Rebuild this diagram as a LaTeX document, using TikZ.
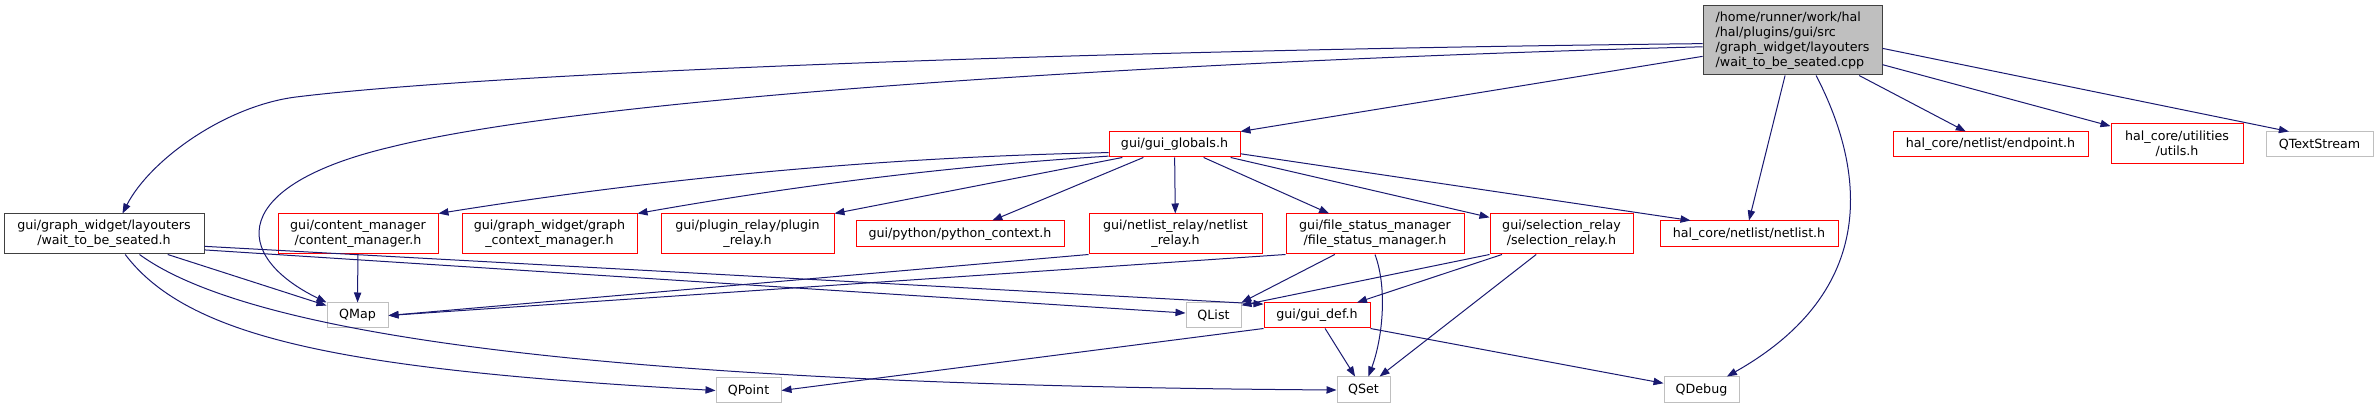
\documentclass[tikz,border=0pt]{standalone}
\usepackage{fontspec}
\setmainfont{DejaVu Sans}
\usetikzlibrary{arrows.meta}
\definecolor{edgeblue}{HTML}{191970}
\definecolor{boxgray}{HTML}{BFBFBF}
\definecolor{boxdark}{HTML}{404040}
\tikzset{
  fnode/.style={draw, rectangle, inner sep=1pt, align=center, font=\fontsize{9.5}{11.2}\selectfont, line width=0.75pt},
  srcfile/.style={fnode, draw=boxdark, fill=boxgray, align=left},
  hfile/.style={fnode, draw=boxdark},
  incl/.style={fnode, draw=red},
  sysincl/.style={fnode, draw=boxgray},
  dep/.style={draw=edgeblue, line width=0.75pt, -{Triangle[length=7.5pt,width=5.5pt]}}
}

\begin{document}
\begin{tikzpicture}[x=0.75pt, y=-0.75pt]
  \useasboundingbox (0,0) rectangle (2378,409);

  % top row
  \node[srcfile, minimum width=134.25pt, minimum height=51.75pt] (root) at (1792.5,40.5) {/home/runner/work/hal\\/hal/plugins/gui/src\\/graph\_widget/layouters\\/wait\_to\_be\_seated.cpp};
  \node[incl, minimum width=98.25pt, minimum height=18.75pt] (gl) at (1174.5,144.5) {gui/gui\_globals.h};
  \node[incl, minimum width=146.25pt, minimum height=18.75pt] (endp) at (1990.5,144.5) {hal\_core/netlist/endpoint.h};
  \node[incl, minimum width=99pt, minimum height=30pt] (utils) at (2177,144) {hal\_core/utilities\\/utils.h};
  \node[sysincl, minimum width=80.25pt, minimum height=18.75pt] (qts) at (2319.5,144.5) {QTextStream};

  % middle row
  \node[hfile, minimum width=150pt, minimum height=30pt] (wait) at (104,234) {gui/graph\_widget/layouters\\/wait\_to\_be\_seated.h};
  \node[incl, minimum width=120pt, minimum height=30pt] (cm) at (358,234) {gui/content\_manager\\/content\_manager.h};
  \node[incl, minimum width=131.25pt, minimum height=30pt] (gcm) at (549.5,234) {gui/graph\_widget/graph\\\_context\_manager.h};
  \node[incl, minimum width=129.75pt, minimum height=30pt] (plug) at (747.5,234) {gui/plugin\_relay/plugin\\\_relay.h};
  \node[incl, minimum width=156pt, minimum height=19.5pt] (py) at (960,234) {gui/python/python\_context.h};
  \node[incl, minimum width=129.75pt, minimum height=30pt] (nr) at (1175.5,234) {gui/netlist\_relay/netlist\\\_relay.h};
  \node[incl, minimum width=133.5pt, minimum height=30pt] (fs) at (1375,234) {gui/file\_status\_manager\\/file\_status\_manager.h};
  \node[incl, minimum width=107.25pt, minimum height=30pt] (sr) at (1561.5,234) {gui/selection\_relay\\/selection\_relay.h};
  \node[incl, minimum width=133.5pt, minimum height=19.5pt] (nl) at (1749,234) {hal\_core/netlist/netlist.h};

  % lower rows
  \node[sysincl, minimum width=45.75pt, minimum height=18.75pt] (qmap) at (357.5,315.5) {QMap};
  \node[sysincl, minimum width=41.25pt, minimum height=18.75pt] (qlist) at (1213.5,315.5) {QList};
  \node[incl, minimum width=79.5pt, minimum height=18.75pt] (gdef) at (1317,315.5) {gui/gui\_def.h};
  \node[sysincl, minimum width=48.75pt, minimum height=18.75pt] (qpoint) at (748.5,390.5) {QPoint};
  \node[sysincl, minimum width=39.75pt, minimum height=19.5pt] (qset) at (1363.5,390) {QSet};
  \node[sysincl, minimum width=56.25pt, minimum height=19.5pt] (qdbg) at (1701.5,390) {QDebug};

  % includes of the source file
  \draw[dep] (root.182) .. controls (1100,50) and (500,72) .. (296,97) .. controls (225,106) and (150,160) .. (wait.48);
  \draw[dep] (root.184) .. controls (1200,60) and (600,95) .. (391,147) .. controls (230,185) and (230,255) .. (qmap.north west);
  \draw[dep] (root.190) -- (gl.north east);
  \draw[dep] (root.258) -- (nl.north);
  \draw[dep] (root.304) .. controls (1865,170) and (1880,290) .. (qdbg.28);
  \draw[dep] (root) -- (endp);
  \draw[dep] (root) -- (utils);
  \draw[dep] (root.355) -- (qts.157);

  % wait_to_be_seated.h
  \draw[dep] (wait) -- (qmap);
  \draw[dep] (wait.351) -- (qlist.175);
  \draw[dep] (wait.353) -- (gdef.168);
  \draw[dep] (wait.330) .. controls (250,335) and (600,385) .. (qset.west);
  \draw[dep] (wait.316) .. controls (190,340) and (350,370) .. (qpoint.west);

  % gui_globals.h
  \draw[dep] (gl.187) .. controls (884,157) and (660,178) .. (cm.north east);
  \draw[dep] (gl.190) .. controls (950,166) and (793,186) .. (gcm.north east);
  \draw[dep] (gl.194) -- (plug.north east);
  \draw[dep] (gl) -- (py);
  \draw[dep] (gl) -- (nr);
  \draw[dep] (gl) -- (fs);
  \draw[dep] (gl) -- (sr);
  \draw[dep] (gl.352) -- (nl.167);

  % second level headers
  \draw[dep] (cm) -- (qmap);
  \draw[dep] (nr.south west) -- (qmap.east);
  \draw[dep] (fs.south west) -- (qmap.east);
  \draw[dep] (fs.207) -- (qlist.north east);
  \draw[dep] (fs.south) .. controls (1388,290) and (1382,340) .. (qset.70);
  \draw[dep] (sr.south west) -- (qlist.20);
  \draw[dep] (sr.199) -- (gdef.18);
  \draw[dep] (sr.219) -- (qset.40);
  \draw[dep] (gdef.south west) -- (qpoint.east);
  \draw[dep] (gdef) -- (qset);
  \draw[dep] (gdef.south east) -- (qdbg.170);
\end{tikzpicture}
\end{document}
